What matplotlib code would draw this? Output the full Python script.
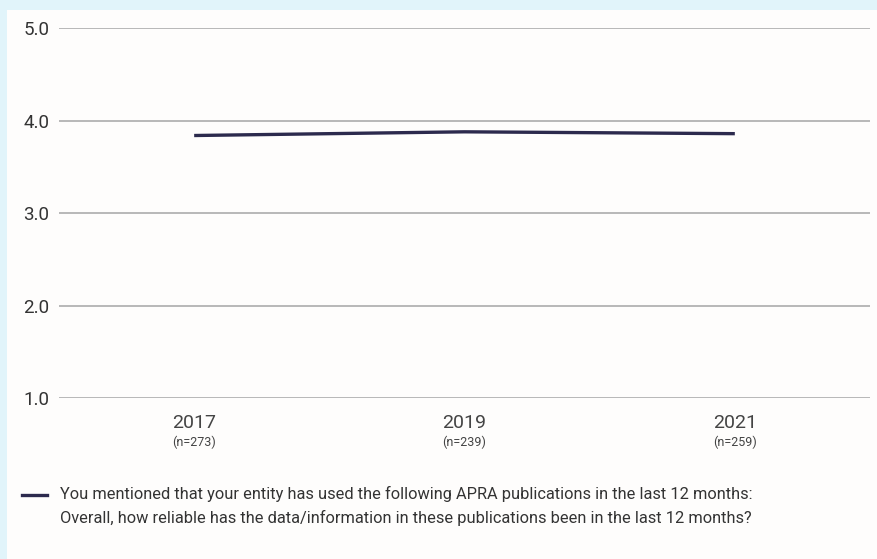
import matplotlib
matplotlib.use("Agg")
import matplotlib.pyplot as plt
from matplotlib.patches import Rectangle
from matplotlib.lines import Line2D

plt.rcParams['font.family'] = ['Roboto', 'DejaVu Sans']

# Survey results
years = ["2017", "2019", "2021"]
sample_sizes = ["(n=273)", "(n=239)", "(n=259)"]
reliability = [3.84, 3.88, 3.86]
y_ticks = [1.0, 2.0, 3.0, 4.0, 5.0]
legend_lines = [
    "You mentioned that your entity has used the following APRA publications in the last 12 months:",
    "Overall, how reliable has the data/information in these publications been in the last 12 months?",
]

W, H = 878, 559
fig = plt.figure(figsize=(W / 100, H / 100), dpi=100)
fig.patch.set_facecolor("#e1f4fa")

# white panel
fig.patches.append(Rectangle((7 / W, 0), 1 - 7 / W, 1 - 10 / H,
                             transform=fig.transFigure, facecolor="#fefdfc",
                             edgecolor="none", zorder=-10))

ax = fig.add_axes([59 / W, 1 - 398 / H, (870 - 59) / W, (398 - 28.3) / H])
ax.set_zorder(1)
ax.set_facecolor("none")
for s in ax.spines.values():
    s.set_visible(False)

x = list(range(len(years)))
line_color = "#2c2a4d"
ax.plot(x, reliability, color=line_color, lw=2.4, solid_capstyle="butt", zorder=3)

ax.set_xlim(-0.5, len(years) - 0.5)
ax.set_ylim(1.0, 5.0)
ax.set_yticks(y_ticks)
ax.set_yticklabels([f"{v:.1f}" for v in y_ticks], fontsize=13.5, color="#333333")
ax.tick_params(axis="y", length=0, pad=7)
ax.set_xticks([])
ax.yaxis.grid(True, color="#b8b8b8", lw=1.4)
ax.set_axisbelow(True)

for xi, yr, n in zip(x, years, sample_sizes):
    ax.annotate(yr, xy=(xi, 0), xycoords=("data", "axes fraction"),
                xytext=(0, -25), textcoords="offset pixels",
                ha="center", va="center", fontsize=14, color="#444444")
    ax.annotate(n, xy=(xi, 0), xycoords=("data", "axes fraction"),
                xytext=(0, -44), textcoords="offset pixels",
                ha="center", va="center", fontsize=9, color="#444444")

# legend
fig.add_artist(Line2D([22 / W, 47 / W], [1 - 495 / H, 1 - 495 / H],
                      transform=fig.transFigure, color=line_color, lw=2.4))
fig.text(60 / W, 1 - 494 / H, legend_lines[0], fontsize=11.8, color="#333333",
         ha="left", va="center")
fig.text(60 / W, 1 - 518 / H, legend_lines[1], fontsize=11.8, color="#333333",
         ha="left", va="center")

fig.savefig("out.png", dpi=100, facecolor=fig.get_facecolor())
